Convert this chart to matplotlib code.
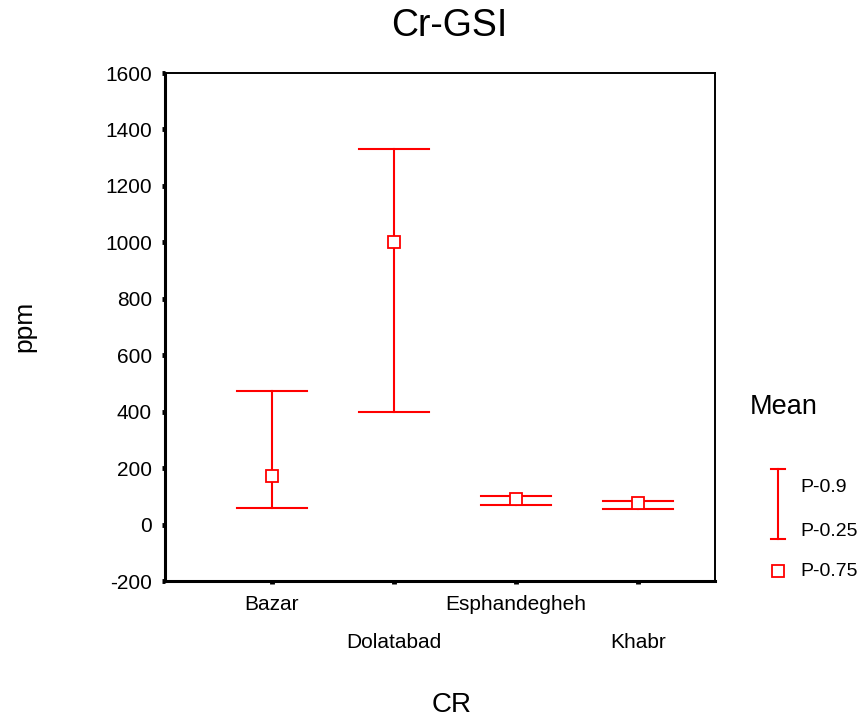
import matplotlib.pyplot as plt
from matplotlib.lines import Line2D
import matplotlib.transforms as mtransforms

plt.rcParams['font.family'] = ['Liberation Sans', 'DejaVu Sans']
plt.rcParams['axes.unicode_minus'] = False

# Data
categories = ['Bazar', 'Dolatabad', 'Esphandegheh', 'Khabr']
p90 = [475, 1330, 100, 85]
p25 = [60, 400, 70, 57]
p75 = [173, 1000, 92, 77]

red = '#ff0000'
x = list(range(1, len(categories) + 1))

fig = plt.figure(figsize=(8.65, 7.2), dpi=100)
ax = fig.add_axes([0.1908, 0.193, 0.636, 0.7056])

for xi, hi, lo, mid in zip(x, p90, p25, p75):
    ax.plot([xi, xi], [lo, hi], color=red, lw=1.5)
    ax.plot([xi - 0.285, xi + 0.285], [hi, hi], color=red, lw=1.5)
    ax.plot([xi - 0.285, xi + 0.285], [lo, lo], color=red, lw=1.5)
    ax.plot([xi], [mid], marker='s', ms=9, mfc='white', mec=red, mew=1.3,
            linestyle='none', zorder=5)

ax.set_xlim(0.125, 4.63)
ax.set_ylim(-200, 1600)
ax.set_yticks(range(-200, 1601, 200))
ax.set_xticks(x)
ax.set_xticklabels([])
ax.tick_params(axis='both', direction='out', length=2.5, width=3.5, labelsize=15, pad=7)

for side in ['left', 'bottom']:
    ax.spines[side].set_linewidth(2.2)
for side in ['top', 'right']:
    ax.spines[side].set_linewidth(1.4)

# staggered category labels
trans = mtransforms.blended_transform_factory(ax.transData, ax.transAxes)
for i, (xi, name) in enumerate(zip(x, categories)):
    offset = -0.047 if i % 2 == 0 else -0.120
    ax.text(xi, offset, name, transform=trans, ha='center', va='center', fontsize=15)

fig.text(449 / 865, 1 - 26 / 720, 'Cr-GSI', ha='center', va='center', fontsize=27)
fig.text(24 / 865, 1 - 326 / 720, 'ppm', ha='center', va='center', rotation=90, fontsize=19)
fig.text(452 / 865, 1 - 705 / 720, 'CR', ha='center', va='center', fontsize=20)

# legend
fig.text(750 / 865, 1 - 407 / 720, 'Mean', ha='left', va='center', fontsize=19.5)
lx = 778 / 865
ytop = 1 - 469 / 720
ybot = 1 - 539 / 720
cap = 7 / 865
fig.add_artist(Line2D([lx, lx], [ybot, ytop], color=red, lw=1.5))
fig.add_artist(Line2D([lx - cap, lx + cap], [ytop, ytop], color=red, lw=1.5))
fig.add_artist(Line2D([lx - cap, lx + cap], [ybot, ybot], color=red, lw=1.5))
fig.add_artist(Line2D([lx], [1 - 571 / 720], marker='s', ms=9, mfc='white',
                      mec=red, mew=1.3, linestyle='none'))
fig.text(800 / 865, 1 - 488 / 720, 'P-0.9', ha='left', va='center', fontsize=14)
fig.text(800 / 865, 1 - 531 / 720, 'P-0.25', ha='left', va='center', fontsize=14)
fig.text(800 / 865, 1 - 571 / 720, 'P-0.75', ha='left', va='center', fontsize=14)

fig.savefig('out.png', dpi=100)
